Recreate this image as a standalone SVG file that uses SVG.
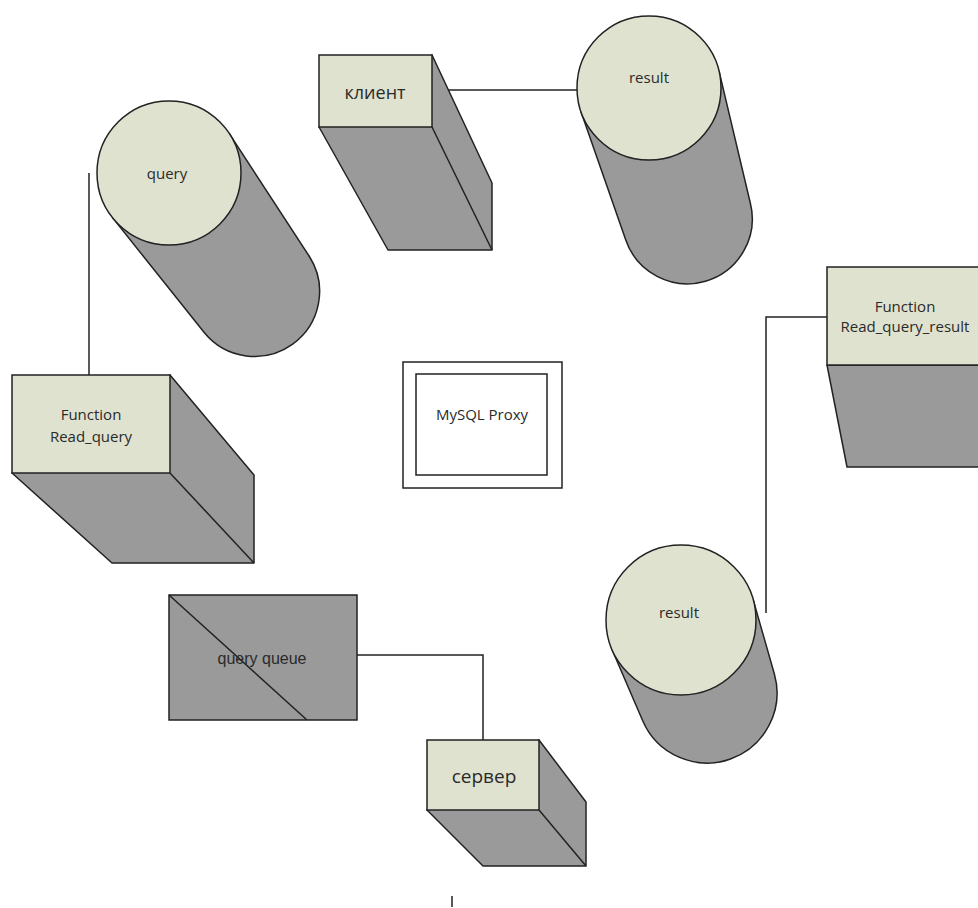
<svg xmlns="http://www.w3.org/2000/svg" width="978" height="908" viewBox="0 0 978 908">
<style>
.face{fill:#dfe2cf;stroke:#222;stroke-width:1.5}
.side{fill:#9a9a9a;stroke:#222;stroke-width:1.5;stroke-linejoin:round}
.edge{fill:none;stroke:#222;stroke-width:1.5}
.con{fill:none;stroke:#222;stroke-width:1.5}
.t{font-family:"Open Sans","Noto Sans",sans-serif;fill:#2a2a2a;text-anchor:middle}
.ta{font-family:"Liberation Sans",Arial,sans-serif;fill:#2a2a2a;text-anchor:middle}
</style>
<rect width="978" height="908" fill="#fff"/>
<g id="connectors">
<polyline class="con" points="432,90 577,90"/>
<polyline class="con" points="89,173 89,375"/>
<polyline class="con" points="827,317 766,317 766,613"/>
<polyline class="con" points="357,655 483,655 483,740"/>
<polyline class="con" points="452,896 452,907"/>
</g>
<g id="client">
<polygon class="side" points="432,55 492,183 492,250 388,250 319,127"/>
<line class="edge" x1="432" y1="127" x2="492" y2="250"/>
<rect class="face" x="319" y="55" width="113" height="72"/>
<text class="t" x="375" y="99" font-size="18">клиент</text>
</g>
<g id="result-top">
<path class="side" d="M581,111.7 L625.6,239.4 A65,65 0 0 0 750.3,203 L719.1,71.4 Z"/>
<circle class="face" cx="649" cy="88" r="72"/>
<text class="t" x="649" y="83" font-size="15">result</text>
</g>
<g id="query">
<path class="side" d="M112.7,217.9 L204.2,332.5 A65,65 0 0 0 309.4,256.5 L229.3,133.7 Z"/>
<circle class="face" cx="169" cy="173" r="72"/>
<text class="t" x="167" y="179" font-size="15">query</text>
</g>
<g id="read-query">
<polygon class="side" points="170,375 254,475 254,563 112,563 12,473"/>
<line class="edge" x1="170" y1="473" x2="254" y2="563"/>
<rect class="face" x="12" y="375" width="158" height="98"/>
<text class="t" x="91" y="420" font-size="15">Function</text>
<text class="t" x="91" y="442" font-size="15">Read_query</text>
</g>
<g id="mysql-proxy">
<rect x="403" y="362" width="159" height="126" fill="#fff" stroke="#222" stroke-width="1.5"/>
<rect x="416" y="374" width="131" height="101" fill="#fff" stroke="#222" stroke-width="1.5"/>
<text class="t" x="482" y="420" font-size="15">MySQL Proxy</text>
</g>
<g id="read-query-result">
<polygon class="side" points="827,365 847,467 990,467 990,365"/>
<rect class="face" x="827" y="267" width="170" height="98"/>
<text class="t" x="905" y="312" font-size="15">Function</text>
<text class="t" x="905" y="332" font-size="15">Read_query_result</text>
</g>
<g id="result-bottom">
<path class="side" d="M612.1,649.7 L642.7,720.7 A70,70 0 0 0 774.3,673.8 L753.1,599.4 Z"/>
<circle class="face" cx="681" cy="620" r="75"/>
<text class="t" x="679" y="618" font-size="15">result</text>
</g>
<g id="query-queue">
<rect x="169" y="595" width="188" height="125" fill="#9a9a9a" stroke="#222" stroke-width="1.5"/>
<line class="edge" x1="169" y1="595" x2="307" y2="720"/>
<text class="ta" x="262" y="664" font-size="16">query queue</text>
</g>
<g id="server">
<polygon class="side" points="539,740 586,802 586,866 483,866 427,810"/>
<line class="edge" x1="539" y1="810" x2="586" y2="866"/>
<rect class="face" x="427" y="740" width="112" height="70"/>
<text class="t" x="484" y="783" font-size="19">сервер</text>
</g>
</svg>
